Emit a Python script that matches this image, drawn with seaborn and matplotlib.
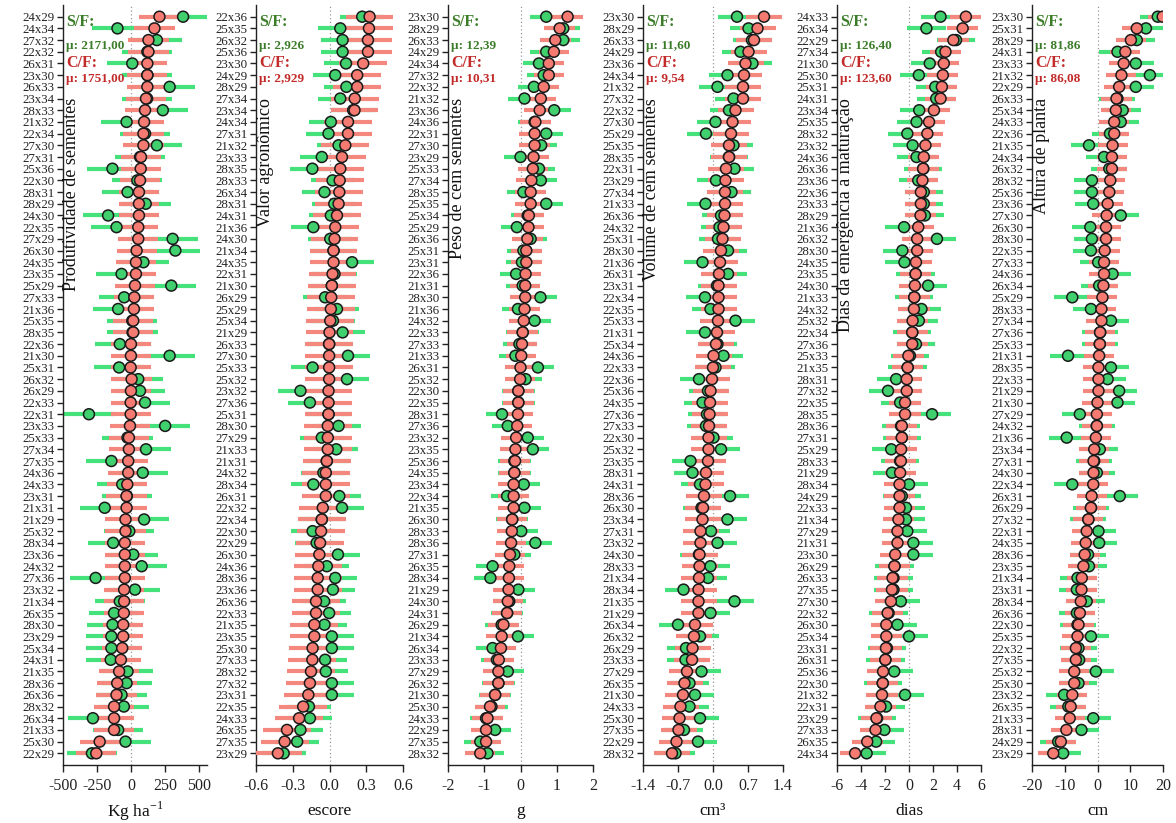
import numpy as np
import pandas as pd
import matplotlib
matplotlib.use("Agg")
import matplotlib.pyplot as plt
import seaborn as sns

sns.set_theme(style="ticks")
plt.rcParams['font.family'] = ['Liberation Serif', 'DejaVu Serif']
plt.rcParams['mathtext.fontset'] = 'custom'
plt.rcParams['mathtext.rm'] = 'Liberation Serif'

# ---------------- data ----------------
prod_labels = ["24x29","24x34","27x32","22x32","26x31","23x30","26x33","23x34","28x33","21x32","22x34","27x30","27x31","25x36","22x30","28x31","28x29","24x30","22x35","27x29","26x30","24x35","23x35","25x29","27x33","21x36","25x35","28x35","22x36","21x30","25x31","26x32","26x29","22x33","22x31","23x33","25x33","27x34","27x35","24x36","24x33","23x31","21x31","21x29","25x32","28x34","23x36","24x32","27x36","23x32","21x34","26x35","28x30","23x29","25x34","24x31","21x35","28x36","26x36","28x32","26x34","21x33","25x30","22x29"]
prod_cf = [210,173,129,129,121,121,121,111,104,97,92,92,74,72,67,59,59,59,54,54,42,37,37,30,25,22,17,17,0,0,-2,5,0,-2,
           -2,-7,-15,-15,-20,-20,-27,-32,-32,-40,-40,-45,-45,-45,-45,-50,-50,-52,-57,-57,-64,-74,-87,-101,-106,-124,-124,-124,-230,-255]
prod_sf = [384,-99,191,121,10,121,285,119,235,-32,104,191,67,-136,47,-25,109,-168,-106,307,327,92,-69,297,-50,-94,10,12,-82,285,-87,54,67,104,
           -309,252,-25,111,-144,87,-64,-30,-193,97,-12,-131,17,79,-260,30,-82,-124,-136,-144,-144,-149,-25,-32,-69,-52,-280,-94,-40,-287]

valor_labels = ["22x36","25x35","26x32","25x36","23x30","24x29","28x29","27x34","23x34","24x34","27x31","21x32","23x33","28x35","28x33","26x34","28x31","24x31","21x36","24x30","21x34","24x35","22x31","21x30","26x29","25x29","25x34","21x29","26x33","27x30","25x33","25x32","23x32","27x36","25x31","28x30","27x29","21x33","21x31","24x32","28x34","26x31","22x32","22x34","22x30","22x29","26x30","24x36","28x36","23x36","26x36","22x33","21x35","23x35","25x30","27x33","28x32","27x32","23x31","22x35","24x33","26x35","27x35","23x29"]
valor_cf = [0.327,0.322,0.314,0.314,0.275,0.226,0.226,0.206,0.204,0.151,0.151,0.129,0.102,0.088,0.083,0.080,0.074,0.061,0.047,0.041,0.033,0.033,0.025,0.019,0.014,0.011,0.006,0.000,-0.003,-0.003,-0.003,-0.003,-0.008,-0.008,
            -0.008,-0.014,-0.014,-0.014,-0.022,-0.030,-0.030,-0.030,-0.055,-0.063,-0.069,-0.077,-0.083,-0.091,-0.096,-0.096,-0.110,-0.110,-0.124,-0.124,-0.138,-0.140,-0.151,-0.160,-0.173,-0.215,-0.248,-0.347,-0.366,-0.421]
valor_sf = [0.267,0.088,0.107,0.107,0.135,0.047,0.138,0.088,0.193,0.011,-0.008,0.074,-0.063,-0.140,0.025,-0.041,0.039,0.011,-0.132,0.006,0.033,0.184,0.041,0.019,-0.036,0.061,0.028,0.107,-0.003,0.151,-0.138,0.143,-0.237,-0.160,
            -0.008,0.074,-0.063,0.055,-0.022,-0.050,-0.132,0.080,0.102,-0.063,-0.138,-0.105,0.069,-0.022,0.047,0.028,-0.044,-0.003,-0.041,0.019,0.019,-0.036,-0.030,0.019,0.019,-0.168,-0.160,-0.237,-0.264,-0.374]

peso_labels = ["23x30","28x29","26x33","24x29","24x34","27x32","22x32","21x32","23x36","24x36","22x31","27x30","23x29","25x33","27x34","28x35","25x35","25x34","25x29","26x36","25x31","23x31","22x36","21x31","28x30","21x36","24x32","22x33","27x33","21x33","26x31","25x32","22x30","22x35","28x31","27x36","23x32","23x35","25x36","24x35","23x34","22x34","21x35","26x30","28x33","28x36","27x31","26x35","28x34","21x29","24x30","24x31","26x29","21x34","26x34","23x33","27x29","26x32","21x30","25x30","24x33","22x29","27x35","28x32"]
peso_cf = [1.30,1.08,0.96,0.92,0.78,0.78,0.64,0.56,0.53,0.41,0.39,0.39,0.36,0.34,0.30,0.28,0.28,0.23,0.22,0.19,0.16,0.16,0.14,0.13,0.13,0.11,0.09,0.06,0.04,0.02,0.00,-0.01,-0.06,-0.06,
           -0.07,-0.09,-0.12,-0.14,-0.15,-0.17,-0.19,-0.19,-0.19,-0.23,-0.24,-0.26,-0.29,-0.31,-0.32,-0.33,-0.35,-0.37,-0.47,-0.52,-0.54,-0.60,-0.61,-0.61,-0.70,-0.84,-0.91,-0.95,-0.95,-1.11]
peso_sf = [0.71,1.18,1.18,0.71,0.51,0.64,0.37,0.11,0.93,0.39,0.71,0.57,0.00,0.51,0.56,0.08,0.71,0.20,-0.10,0.28,0.08,0.04,-0.12,0.06,0.55,-0.07,0.39,0.06,-0.03,-0.14,0.48,0.14,-0.06,-0.06,
           -0.51,-0.35,0.20,0.34,-0.17,-0.17,0.09,-0.37,0.11,-0.23,0.02,0.41,-0.17,-0.77,-0.83,-0.06,-0.31,-0.37,-0.52,-0.07,-0.77,-0.65,-0.35,-0.61,-0.70,-0.80,-0.95,-0.70,-1.11,-0.91]

vol_labels = ["23x30","28x29","26x33","24x29","23x36","24x34","21x32","27x32","22x32","27x30","25x29","25x35","28x35","22x31","23x29","27x34","21x33","26x36","24x32","25x31","28x30","21x36","26x31","23x31","22x34","22x35","25x33","21x31","25x34","24x36","22x33","22x36","25x36","24x35","27x36","27x33","22x30","25x32","23x35","28x31","24x31","28x36","26x30","23x34","27x31","23x32","24x30","28x33","21x34","28x34","21x35","21x29","26x34","26x32","26x29","23x33","27x29","26x35","21x30","24x33","25x30","27x35","22x29","28x32"]
vol_cf = [1.02,0.89,0.82,0.71,0.65,0.62,0.60,0.60,0.45,0.39,0.36,0.32,0.32,0.26,0.25,0.24,0.24,0.23,0.21,0.19,0.16,0.14,0.12,0.11,0.11,0.11,0.10,0.08,0.06,0.01,0.00,-0.02,-0.05,-0.06,
          -0.07,-0.08,-0.09,-0.09,-0.10,-0.14,-0.15,-0.18,-0.20,-0.21,-0.25,-0.25,-0.27,-0.27,-0.28,-0.29,-0.29,-0.29,-0.36,-0.38,-0.41,-0.42,-0.52,-0.57,-0.60,-0.65,-0.67,-0.69,-0.73,-0.82]
vol_sf = [0.48,0.71,0.78,0.55,0.79,0.29,0.09,0.41,0.32,0.05,-0.14,0.41,0.32,0.43,0.06,0.37,-0.15,0.16,0.13,0.10,0.30,-0.21,0.30,0.08,-0.16,-0.05,0.45,-0.16,0.09,0.21,0.05,-0.28,-0.10,-0.21,
          -0.12,-0.14,0.01,0.16,-0.45,-0.41,-0.26,0.34,-0.23,0.29,-0.04,0.09,-0.28,-0.05,-0.10,-0.59,0.43,-0.05,-0.70,-0.26,-0.54,-0.55,-0.23,-0.47,-0.36,-0.47,-0.26,-0.58,-0.30,-0.75]

dias_labels = ["24x33","26x34","22x29","27x34","21x30","25x30","25x31","24x31","23x34","25x35","28x32","23x32","24x36","26x36","23x36","22x36","23x33","28x29","21x36","26x32","28x30","24x35","23x35","24x30","21x33","24x32","25x32","22x34","27x36","25x33","21x35","28x31","27x32","22x35","28x35","28x36","27x31","25x29","28x33","21x29","28x34","24x29","22x33","21x34","27x29","21x31","23x30","26x29","26x33","27x35","27x30","22x32","26x30","25x34","23x31","26x31","25x36","22x30","21x32","22x31","23x29","27x33","26x35","24x34"]
dias_cf = [4.74,4.47,3.70,3.04,2.90,2.82,2.74,2.63,2.08,1.67,1.53,1.37,1.23,1.18,1.12,0.99,0.99,0.96,0.77,0.68,0.68,0.58,0.55,0.49,0.44,0.41,0.30,0.27,0.27,-0.05,-0.11,-0.19,-0.19,-0.33,
           -0.33,-0.60,-0.60,-0.66,-0.68,-0.74,-0.79,-0.79,-0.79,-0.88,-0.96,-0.96,-1.15,-1.21,-1.37,-1.42,-1.51,-1.78,-1.89,-1.89,-1.92,-1.97,-2.16,-2.19,-2.25,-2.38,-2.71,-2.79,-3.48,-4.49]
dias_sf = [2.63,1.45,3.92,2.68,1.73,0.82,2.19,2.27,0.85,0.63,-0.14,0.30,0.63,1.18,0.77,1.23,1.23,1.32,-0.41,2.33,-0.55,-0.38,0.55,1.59,0.44,1.04,0.82,0.27,0.58,0.08,-0.11,-1.07,-1.75,-0.74,
           1.92,-0.66,-0.60,-1.48,-0.74,-1.42,0.00,-0.60,-0.25,-0.25,-0.14,0.36,0.36,-1.21,-1.29,-1.29,-0.68,-1.70,-0.96,0.00,-1.84,-1.97,-1.23,-2.19,-0.33,-1.92,-2.66,-2.05,-2.74,-3.53]

alt_labels = ["23x30","25x31","28x29","24x31","23x33","21x32","22x29","26x33","25x34","24x33","22x36","21x35","24x34","26x32","28x32","25x36","23x36","27x30","26x30","28x30","22x35","27x33","24x36","26x34","25x29","28x33","27x34","27x36","25x33","21x31","28x35","22x33","21x29","21x30","27x29","24x32","21x36","23x34","27x31","24x30","22x34","26x31","26x29","27x32","22x31","24x35","28x36","23x35","21x34","23x31","28x34","26x36","22x30","25x35","22x32","27x35","25x32","25x30","23x32","26x35","21x33","28x31","24x29","23x29"]
alt_cf = [19.9,12.0,10.2,8.5,8.0,7.3,6.6,5.8,5.6,5.1,5.1,4.6,4.4,4.4,3.9,3.6,3.1,2.8,2.6,2.6,2.2,2.0,2.0,1.8,1.5,1.2,1.2,0.8,0.7,0.5,0.3,0.3,0.3,0.0,
          -0.2,-0.2,-0.5,-1.0,-1.2,-1.2,-1.3,-1.8,-2.0,-2.8,-3.3,-3.6,-3.9,-4.3,-4.8,-4.9,-5.1,-5.4,-5.8,-6.1,-6.6,-6.6,-7.1,-7.1,-7.7,-8.2,-8.5,-9.5,-11.2,-13.5]
alt_sf = [18.4,14.8,12.0,6.1,11.7,16.0,11.7,6.1,7.7,7.1,3.8,-2.6,2.0,3.6,-1.7,-1.7,-1.3,7.1,-2.2,-1.7,-2.0,0.2,4.6,0.5,-7.7,-2.0,4.1,0.8,0.7,-9.0,4.1,3.1,6.6,6.1,
          -5.4,-0.2,-9.4,0.7,-1.0,-0.2,-7.7,6.8,-2.0,-2.8,0.3,0.5,-2.9,-2.6,-6.1,-6.3,-3.3,-6.3,-6.1,-2.0,-5.8,-5.6,-0.5,-5.8,-10.2,-8.9,-1.3,-4.9,-12.0,-10.5]

titles = ["Produtividade de sementes", "Valor agronômico", "Peso de cem sementes",
          "Volume de cem sementes", "Dias da emergência a maturação", "Altura de planta"]
units = ["Kg ha$^{-1}$", "escore", "g", "cm³", "dias", "cm"]
mean_sf = ["2171,00", "2,926", "12,39", "11,60", "126,40", "81,86"]
mean_cf = ["1751,00", "2,929", "10,31", "9,54", "123,60", "86,08"]
err_cf = [148, 0.195, 0.42, 0.36, 1.3, 4.6]
err_sf = [185, 0.18, 0.45, 0.38, 1.6, 5.5]
xticks = [[-500, -250, 0, 250, 500], [-0.6, -0.3, 0.0, 0.3, 0.6], [-2, -1, 0, 1, 2],
          [-1.4, -0.7, 0.0, 0.7, 1.4], [-6, -4, -2, 0, 2, 4, 6], [-20, -10, 0, 10, 20]]
xticklabels = [["-500", "-250", "0", "250", "500"], ["-0.6", "-0.3", "0.0", "0.3", "0.6"],
               ["-2", "-1", "0", "1", "2"], ["-1.4", "-0.7", "0.0", "0.7", "1.4"],
               ["-6", "-4", "-2", "0", "2", "4", "6"], ["-20", "-10", "0", "10", "20"]]
xlims = [(-500, 560), (-0.6, 0.6), (-2, 2), (-1.4, 1.4), (-6, 6), (-20, 20)]

panels = [
    (prod_labels, prod_cf, prod_sf),
    (valor_labels, valor_cf, valor_sf),
    (peso_labels, peso_cf, peso_sf),
    (vol_labels, vol_cf, vol_sf),
    (dias_labels, dias_cf, dias_sf),
    (alt_labels, alt_cf, alt_sf),
]

# ---------------- style ----------------
RED_LINE = "#F4877E"
RED_DOT = "#F57B72"
GREEN_LINE = "#45E27C"
GREEN_DOT = "#40D06E"
GREEN_TXT = "#3C7D2A"
RED_TXT = "#C32A2A"

W, H = 1176, 823
TOP, BOTTOM = 5, 765
edges = [(63, 207), (256, 403), (448, 593), (643, 783), (837, 981), (1032, 1163)]

fig = plt.figure(figsize=(W / 100, H / 100), dpi=100)

for i, (labels, cf, sf) in enumerate(panels):
    l, r = edges[i]
    ax = fig.add_axes([l / W, 1 - BOTTOM / H, (r - l) / W, (BOTTOM - TOP) / H])
    n = len(labels)
    y = np.arange(n)
    cf = np.asarray(cf, float)
    sf = np.asarray(sf, float)
    df = pd.DataFrame({
        "cruz": list(labels) * 2,
        "pos": np.r_[y, y],
        "valor": np.r_[sf, cf],
        "grupo": ["S/F"] * n + ["C/F"] * n,
    })
    ax.axvline(0, color="#9a9a9a", ls=(0, (1, 2)), lw=0.9, zorder=1)
    ax.hlines(y, sf - err_sf[i], sf + err_sf[i], color=GREEN_LINE, lw=3.0, zorder=2)
    ax.hlines(y, cf - err_cf[i], cf + err_cf[i], color=RED_LINE, lw=3.0, zorder=3)
    sns.scatterplot(data=df, x="valor", y="pos", hue="grupo",
                    palette={"S/F": GREEN_DOT, "C/F": RED_DOT},
                    s=62, edgecolor="#1a1a1a", linewidth=1.1, legend=False,
                    ax=ax, zorder=4)
    ax.set_ylim(n, -1)
    ax.set_xlim(*xlims[i])
    ax.set_yticks(y)
    ax.set_yticklabels(labels, fontsize=9.3)
    ax.set_xticks(xticks[i])
    ax.set_xticklabels(xticklabels[i], fontsize=11.5)
    ax.set_ylabel("")
    ax.set_xlabel("")
    ax.tick_params(axis="y", length=4, width=1, pad=2, colors="#222222")
    ax.tick_params(axis="x", length=5, width=1, pad=4, colors="#222222")
    sns.despine(ax=ax)
    for s in ("left", "bottom"):
        ax.spines[s].set_color("#222222")
        ax.spines[s].set_linewidth(1.0)

    wpx = r - l
    hpx = BOTTOM - TOP
    ax.text(0.5, (BOTTOM - 811) / hpx, units[i], ha="center", va="center", fontsize=12.5,
            transform=ax.transAxes, color="#111111")
    ax.text(9 / wpx, (BOTTOM - 98) / hpx, titles[i], rotation=90, ha="center", va="top",
            fontsize=13, transform=ax.transAxes, color="#111111")
    ax.text(3 / wpx, (BOTTOM - 22) / hpx, "S/F:", ha="left", va="center", fontsize=11.5,
            fontweight="bold", color=GREEN_TXT, transform=ax.transAxes)
    ax.text(3 / wpx, (BOTTOM - 46) / hpx, "µ: " + mean_sf[i], ha="left", va="center", fontsize=9.5,
            fontweight="bold", color=GREEN_TXT, transform=ax.transAxes)
    ax.text(3 / wpx, (BOTTOM - 63) / hpx, "C/F:", ha="left", va="center", fontsize=11.5,
            fontweight="bold", color=RED_TXT, transform=ax.transAxes)
    ax.text(3 / wpx, (BOTTOM - 79) / hpx, "µ: " + mean_cf[i], ha="left", va="center", fontsize=9.5,
            fontweight="bold", color=RED_TXT, transform=ax.transAxes)

fig.savefig("out.png", dpi=100, facecolor="white")
